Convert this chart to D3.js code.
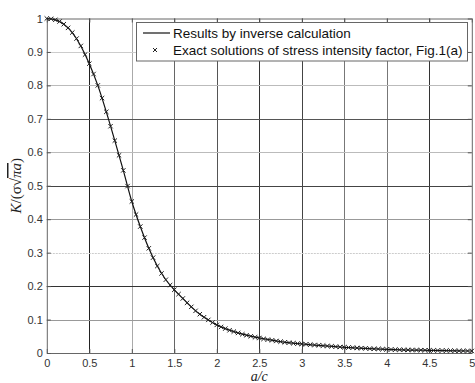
<!DOCTYPE html>
<html>
<head>
<meta charset="utf-8">
<script src="https://cdn.jsdelivr.net/npm/d3@7"></script>
<style>
  body { margin: 0; background: #fff; }
  svg { display: block; }
  .tick text { font-family: "Liberation Sans", Arial, sans-serif; font-size: 11px; fill: #333; }
</style>
</head>
<body>
<svg id="chart"></svg>
<script>
// a/c values of the exact solutions (markers)
const ratio = d3.range(0, 101).map(i => i / 20);
// K/(sigma sqrt(pi a)), exact solutions
const exactK = [
  1.000, 0.999, 0.996, 0.991, 0.983, 0.972, 0.958, 0.940, 0.918, 0.892,
  0.865, 0.834, 0.800, 0.762, 0.721, 0.678, 0.635, 0.591, 0.546, 0.499,
  0.453, 0.414, 0.378, 0.345, 0.313, 0.285, 0.260, 0.238, 0.219, 0.203,
  0.189, 0.176, 0.163, 0.150, 0.138, 0.126, 0.116, 0.107, 0.099, 0.091,
  0.084, 0.078, 0.073, 0.068, 0.064, 0.060, 0.056, 0.053, 0.050, 0.047,
  0.045, 0.042, 0.040, 0.038, 0.036, 0.034, 0.032, 0.031, 0.029, 0.028,
  0.027, 0.026, 0.025, 0.024, 0.023, 0.022, 0.021, 0.020, 0.019, 0.018,
  0.017, 0.0165, 0.016, 0.015, 0.0145, 0.014, 0.013, 0.0125, 0.012, 0.0115,
  0.011, 0.0105, 0.010, 0.0098, 0.0095, 0.0092, 0.009, 0.0087, 0.0085, 0.0082,
  0.008, 0.0078, 0.0076, 0.0074, 0.0072, 0.007, 0.0068, 0.0066, 0.0064, 0.0062,
  0.006
];
// inverse calculation results (solid line)
const inverseRatio = [0, 0.1, 0.2, 0.3, 0.4, 0.5, 0.6, 0.7, 0.8, 0.9, 1.0, 1.1, 1.2, 1.3, 1.4, 1.5, 1.6, 1.7, 1.8, 1.9, 2.0,
  2.25, 2.5, 2.75, 3.0, 3.5, 4.0, 4.5, 5.0];
const inverseK = [1.0, 0.996, 0.983, 0.958, 0.918, 0.865, 0.800, 0.721, 0.635, 0.546, 0.453, 0.378, 0.313, 0.260, 0.219, 0.189,
  0.163, 0.138, 0.116, 0.099, 0.084, 0.060, 0.045, 0.034, 0.027, 0.017, 0.011, 0.008, 0.006];

const xTicks = [0, 0.5, 1, 1.5, 2, 2.5, 3, 3.5, 4, 4.5, 5];
const yTicks = [0, 0.1, 0.2, 0.3, 0.4, 0.5, 0.6, 0.7, 0.8, 0.9, 1];
const legendLabels = ["Results by inverse calculation", "Exact solutions of stress intensity factor, Fig.1(a)"];

const width = 475, height = 383;
const m = { left: 46.8, right: 471.8, top: 18.5, bottom: 353 };

const svg = d3.select("#chart").attr("width", width).attr("height", height);

const x = d3.scaleLinear().domain([0, 5]).range([m.left, m.right]);
const y = d3.scaleLinear().domain([0, 1]).range([m.bottom, m.top]);

// grid shades (the scanned figure's dotted grid looks uneven)
const xGridShade = {0.5: "#222", 1: "#aaa", 1.5: "#666", 2: "#555", 2.5: "#333", 3: "#444", 3.5: "#777", 4: "#777", 4.5: "#333"};
const yGridShade = {0.1: "#999", 0.2: "#333", 0.3: "#ccc", 0.4: "#999", 0.5: "#444", 0.6: "#bbb", 0.7: "#555", 0.8: "#bbb", 0.9: "#ccc"};

const grid = svg.append("g").attr("class", "grid");
grid.selectAll(".vgrid")
  .data(xTicks.filter(d => d > 0 && d < 5))
  .enter().append("line")
    .attr("x1", d => Math.round(x(d)) + 0.5).attr("x2", d => Math.round(x(d)) + 0.5)
    .attr("y1", m.top).attr("y2", m.bottom)
    .attr("stroke", d => xGridShade[d])
    .attr("stroke-width", 1);
grid.selectAll(".hgrid")
  .data(yTicks.filter(d => d > 0 && d < 1))
  .enter().append("line")
    .attr("y1", d => Math.round(y(d)) + 0.5).attr("y2", d => Math.round(y(d)) + 0.5)
    .attr("x1", m.left).attr("x2", m.right)
    .attr("stroke", d => yGridShade[d])
    .attr("stroke-dasharray", d => d === 0.3 ? "2,1" : null)
    .attr("stroke-width", 1);

// axes with inward ticks on all four sides
const fmt = d3.format("~g");
const axes = [
  svg.append("g").attr("transform", `translate(0,${m.bottom})`)
    .call(d3.axisBottom(x).tickValues(xTicks).tickFormat(fmt).tickSizeInner(-4).tickSizeOuter(0).tickPadding(6)),
  svg.append("g").attr("transform", `translate(${m.left},0)`)
    .call(d3.axisLeft(y).tickValues(yTicks).tickFormat(fmt).tickSizeInner(-4).tickSizeOuter(0).tickPadding(4)),
  svg.append("g").attr("transform", `translate(0,${m.top})`)
    .call(d3.axisTop(x).tickValues(xTicks).tickFormat("").tickSizeInner(-4).tickSizeOuter(0)),
  svg.append("g").attr("transform", `translate(${m.right},0)`)
    .call(d3.axisRight(y).tickValues(yTicks).tickFormat("").tickSizeInner(-4).tickSizeOuter(0))
];
axes.forEach(a => {
  a.select(".domain").attr("stroke", "#666");
  a.selectAll(".tick line").attr("stroke", "#555");
});

// line series
const line = d3.line()
  .x((d, i) => x(inverseRatio[i]))
  .y(d => y(d))
  .curve(d3.curveMonotoneX);
svg.append("path")
  .datum(inverseK)
  .attr("fill", "none")
  .attr("stroke", "#111")
  .attr("stroke-width", 1.2)
  .attr("d", line);

// x markers
const s = 2.2;
svg.append("g").selectAll("path")
  .data(exactK)
  .enter().append("path")
    .attr("d", (d, i) => {
      const cx = x(ratio[i]), cy = y(d);
      return `M${cx - s},${cy - s}L${cx + s},${cy + s}M${cx - s},${cy + s}L${cx + s},${cy - s}`;
    })
    .attr("stroke", "#222")
    .attr("stroke-width", 1);

// legend
const legend = svg.append("g");
legend.append("rect")
  .attr("x", 136.5).attr("y", 22.5).attr("width", 331).attr("height", 38.5)
  .attr("fill", "#fff").attr("stroke", "#666").attr("stroke-width", 1);
legend.append("line")
  .attr("x1", 143).attr("x2", 170).attr("y1", 33).attr("y2", 33)
  .attr("stroke", "#111").attr("stroke-width", 1.2);
legend.append("path")
  .attr("d", `M${155 - 2},${50 - 2}L${155 + 2},${50 + 2}M${155 - 2},${50 + 2}L${155 + 2},${50 - 2}`)
  .attr("stroke", "#222").attr("stroke-width", 1);
legend.selectAll("text")
  .data(legendLabels)
  .enter().append("text")
    .attr("x", 173)
    .attr("y", (d, i) => 33 + i * 17)
    .attr("dy", "0.35em")
    .attr("font-family", "Liberation Sans, Arial, sans-serif")
    .attr("font-size", 13.5)
    .attr("fill", "#111")
    .text(d => d);

// axis titles
svg.append("text")
  .attr("x", (m.left + m.right) / 2)
  .attr("y", 380.5)
  .attr("text-anchor", "middle")
  .attr("font-family", "Liberation Serif, serif")
  .attr("font-style", "italic")
  .attr("font-size", 14)
  .attr("fill", "#222")
  .text("a/c");

const yTitle = svg.append("text")
  .attr("transform", `translate(21,${(m.top + m.bottom) / 2}) rotate(-90)`)
  .attr("text-anchor", "middle")
  .attr("font-family", "Liberation Serif, serif")
  .attr("font-size", 15)
  .attr("fill", "#222");
yTitle.append("tspan").attr("font-style", "italic").text("K");
yTitle.append("tspan").text("/(σ√");
yTitle.append("tspan").attr("font-style", "italic").style("text-decoration", "overline").text("πa");
yTitle.append("tspan").text(")");
</script>
</body>
</html>
